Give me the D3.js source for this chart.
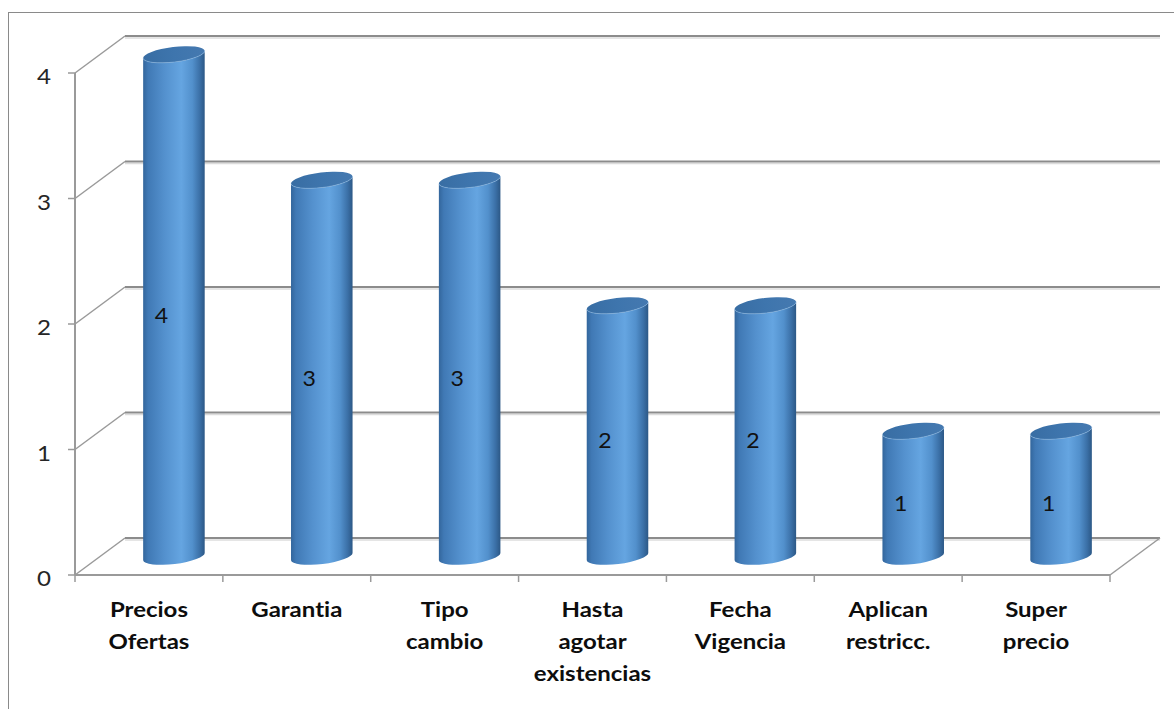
<!DOCTYPE html>
<html>
<head>
<meta charset="utf-8">
<script src="https://cdn.jsdelivr.net/npm/d3@7"></script>
<style>
  html, body { margin: 0; padding: 0; background: #ffffff; }
  svg { display: block; }
  text { font-family: Lato, "Open Sans", "Noto Sans", sans-serif; font-variant-ligatures: none; }
</style>
</head>
<body>
<svg id="chart" width="1174" height="709"></svg>
<script>
// Categories (each label line as a separate entry) and their counts
const categories = ["Precios Ofertas", "Garantia", "Tipo cambio", "Hasta agotar existencias",
                    "Fecha Vigencia", "Aplican restricc.", "Super precio"];
const labelLines = [["Precios", "Ofertas"], ["Garantia"], ["Tipo", "cambio"],
                    ["Hasta", "agotar", "existencias"], ["Fecha", "Vigencia"],
                    ["Aplican", "restricc."], ["Super", "precio"]];
const values = [4, 3, 3, 2, 2, 1, 1];
const yTicks = [0, 1, 2, 3, 4];

const svg = d3.select("#chart");

// Front plane scales; the back wall is offset by a fixed depth vector
const x = d3.scaleBand().domain(categories).range([75, 1110]).paddingInner(0).paddingOuter(0);
const y = d3.scaleLinear().domain([0, 4]).range([575, 73]);
const DX = 50, DY = -37;
const bw = x.bandwidth();

// Chart frame
svg.append("rect")
  .attr("x", 8.5).attr("y", 12.5).attr("width", 1300).attr("height", 900)
  .attr("fill", "none").attr("stroke", "#8a8a8a").attr("stroke-width", 1);

const grid = svg.append("g");

// Back wall gridlines (with soft shadow) and side wall diagonals
yTicks.forEach(v => {
  const yb = y(v) + DY;
  grid.append("line")
    .attr("x1", 75 + DX).attr("x2", 1110 + DX)
    .attr("y1", yb + 2).attr("y2", yb + 2)
    .attr("stroke", "#dcdcdc").attr("stroke-width", 1.5);
  grid.append("line")
    .attr("x1", 75 + DX).attr("x2", 1110 + DX)
    .attr("y1", yb).attr("y2", yb)
    .attr("stroke", "#8c8c8c").attr("stroke-width", 2);
  grid.append("line")
    .attr("x1", 75).attr("y1", y(v))
    .attr("x2", 75 + DX).attr("y2", yb)
    .attr("stroke", "#9a9a9a").attr("stroke-width", 1.5);
  // tick mark on the value axis
  grid.append("line")
    .attr("x1", 68).attr("x2", 75)
    .attr("y1", y(v)).attr("y2", y(v))
    .attr("stroke", "#9a9a9a").attr("stroke-width", 1.5);
});

// Floor right edge
grid.append("line")
  .attr("x1", 1110).attr("y1", y(0))
  .attr("x2", 1110 + DX).attr("y2", y(0) + DY)
  .attr("stroke", "#9a9a9a").attr("stroke-width", 1.5);

// Value axis line
grid.append("line")
  .attr("x1", 75).attr("x2", 75)
  .attr("y1", y(4)).attr("y2", y(0))
  .attr("stroke", "#9a9a9a").attr("stroke-width", 2);

// Category axis line and ticks
grid.append("line")
  .attr("x1", 75).attr("x2", 1110)
  .attr("y1", y(0)).attr("y2", y(0))
  .attr("stroke", "#9a9a9a").attr("stroke-width", 2);
const boundaries = categories.map(c => x(c)).concat([x(categories[categories.length - 1]) + bw]);
boundaries.forEach(bx => {
  grid.append("line")
    .attr("x1", bx).attr("x2", bx)
    .attr("y1", y(0)).attr("y2", y(0) + 7)
    .attr("stroke", "#9a9a9a").attr("stroke-width", 1.5);
});

// Value axis labels
svg.append("g").selectAll("text")
  .data(yTicks).join("text")
  .attr("transform", d => `translate(51,${y(d) + 11}) scale(1.15,1)`)
  .attr("text-anchor", "end")
  .attr("font-size", 21)
  .attr("fill", "#262626")
  .text(d => d);

// Cylinder shading
const defs = svg.append("defs");
const bodyGrad = defs.append("linearGradient").attr("id", "cylBody")
  .attr("x1", "0").attr("x2", "1").attr("y1", "0").attr("y2", "0");
[[0, "#33669c"], [0.08, "#4079b5"], [0.35, "#5491ce"], [0.62, "#65a5e1"],
 [0.8, "#5290cc"], [0.92, "#3b70a7"], [1, "#2c5886"]].forEach(([o, c]) => {
  bodyGrad.append("stop").attr("offset", o).attr("stop-color", c);
});
const capGrad = defs.append("linearGradient").attr("id", "cylCap")
  .attr("x1", "0").attr("x2", "1").attr("y1", "0").attr("y2", "0");
[[0, "#386da3"], [0.5, "#3e75ad"], [1, "#4579b0"]].forEach(([o, c]) => {
  capGrad.append("stop").attr("offset", o).attr("stop-color", c);
});

const RX = 31, RY = 7.5, TILT = -7;
const t = TILT * Math.PI / 180;
const ex = RX * Math.cos(t), ey = RX * Math.sin(t);

const bars = svg.append("g").selectAll("g")
  .data(categories.map((c, i) => ({ c, v: values[i] })))
  .join("g");

bars.each(function(d) {
  const g = d3.select(this);
  const cx = x(d.c) + bw / 2 + DX / 2;
  const yBase = y(0) + DY / 2;
  const yTop = y(d.v) + DY / 2;
  const body = `M${cx - ex},${yTop - ey} L${cx - ex},${yBase - ey} ` +
    `A${RX},${RY} ${TILT} 0 0 ${cx + ex},${yBase + ey} ` +
    `L${cx + ex},${yTop + ey} A${RX},${RY} ${TILT} 0 1 ${cx - ex},${yTop - ey} Z`;
  g.append("path").attr("d", body).attr("fill", "url(#cylBody)");
  g.append("ellipse")
    .attr("cx", cx).attr("cy", yTop).attr("rx", RX).attr("ry", RY)
    .attr("transform", `rotate(${TILT},${cx},${yTop})`)
    .attr("fill", "url(#cylCap)");
  // light rim along the near edge of the cap
  g.append("path")
    .attr("d", `M${cx - ex},${yTop - ey} A${RX},${RY} ${TILT} 0 0 ${cx + ex},${yTop + ey}`)
    .attr("fill", "none").attr("stroke", "#8dbbe6").attr("stroke-opacity", 0.5)
    .attr("stroke-width", 1);
});

// Value labels on the bars
svg.append("g").selectAll("text")
  .data(categories.map((c, i) => ({ c, v: values[i] })))
  .join("text")
  .attr("transform", d => `translate(${x(d.c) + bw / 2 + DX / 4},${y(d.v / 2) + DY / 4 + 8}) scale(1.05,1)`)
  .attr("text-anchor", "middle")
  .attr("font-size", 22)
  .attr("fill", "#111")
  .text(d => d.v);

// Category labels
const catG = svg.append("g").selectAll("g")
  .data(categories.map((c, i) => ({ c, lines: labelLines[i] })))
  .join("g");
catG.each(function(d) {
  const g = d3.select(this);
  d.lines.forEach((ln, k) => {
    g.append("text")
      .attr("transform", `translate(${x(d.c) + bw / 2},${617 + k * 32}) scale(1.2,1)`)
      .attr("text-anchor", "middle")
      .attr("font-size", 20)
      .attr("font-weight", "bold")
      .attr("fill", "#0d0d0d")
      .text(ln);
  });
});
</script>
</body>
</html>
